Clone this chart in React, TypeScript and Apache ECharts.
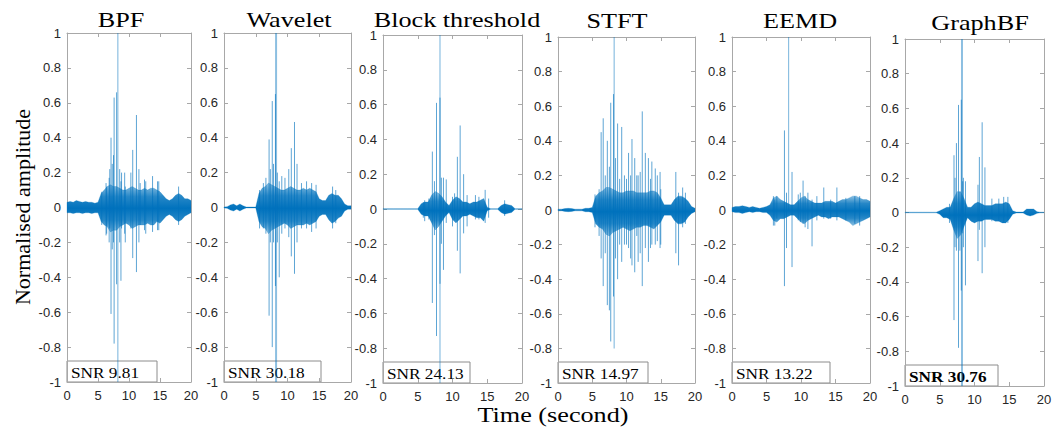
import React, { useEffect, useRef } from 'react';
import * as echarts from 'echarts';

// ---------- data ----------
const envTimes = [0, 0.5, 1, 1.5, 2, 2.5, 3, 3.5, 4, 4.5, 5, 5.5, 6, 6.5, 7, 7.5, 8, 8.5, 9, 9.5, 10, 10.5, 11, 11.5, 12, 12.5, 13, 13.5, 14, 14.5, 15, 15.5, 16, 16.5, 17, 17.5, 18, 18.5, 19, 19.5, 20];

const methodNames = ['BPF', 'Wavelet', 'Block threshold', 'STFT', 'EEMD', 'GraphBF'];
const snrValues = ['9.81', '30.18', '24.13', '14.97', '13.22', '30.76'];

const bpfUpper = [0.03, 0.035, 0.03, 0.04, 0.035, 0.03, 0.035, 0.03, 0.03, 0.025, 0.03, 0.08, 0.1, 0.12, 0.13, 0.12, 0.12, 0.11, 0.1, 0.1, 0.11, 0.12, 0.11, 0.1, 0.1, 0.11, 0.1, 0.11, 0.11, 0.1, 0.09, 0.07, 0.05, 0.04, 0.05, 0.07, 0.08, 0.07, 0.05, 0.05, 0.04];
const bpfLower = [-0.03, -0.03, -0.035, -0.03, -0.03, -0.035, -0.03, -0.03, -0.035, -0.03, -0.03, -0.08, -0.1, -0.11, -0.14, -0.13, -0.13, -0.11, -0.1, -0.09, -0.1, -0.12, -0.11, -0.1, -0.1, -0.1, -0.09, -0.1, -0.1, -0.08, -0.09, -0.07, -0.05, -0.04, -0.05, -0.07, -0.08, -0.07, -0.05, -0.04, -0.03];
const bpfSpikes = [[5.6, 0.09, -0.1], [6.3, 0.14, -0.16], [6.4, 0.12, -0.15], [6.8, 0.17, -0.2], [6.9, 0.22, -0.12], [7.1, 0.4, -0.61], [7.3, 0.25, -0.24], [7.5, 0.3, -0.2], [7.6, 0.63, -0.78], [8.0, 0.66, -0.44], [8.5, 0.22, -0.2], [8.7, 0.15, -0.42], [8.8, 0.2, -0.12], [9.3, 0.2, -0.15], [9.4, 0.12, -0.2], [10.3, 0.2, -0.12], [10.6, 0.33, -0.29], [11.2, 0.53, -0.37], [11.6, 0.22, -0.2], [11.8, 0.14, -0.1], [12.5, 0.16, -0.13], [12.7, 0.15, -0.15], [13.8, 0.18, -0.14], [14.6, 0.15, -0.13], [14.8, 0.15, -0.13], [18.0, 0.12, -0.1]];
const bpfMarker = [[8.2, 1, -1]];

const waveletUpper = [0.003, 0.005, 0.015, 0.02, 0.01, 0.02, 0.01, 0.003, 0.003, 0.003, 0.003, 0.08, 0.11, 0.12, 0.14, 0.13, 0.12, 0.11, 0.1, 0.1, 0.11, 0.12, 0.11, 0.1, 0.1, 0.11, 0.1, 0.11, 0.1, 0.09, 0.05, 0.04, 0.04, 0.07, 0.08, 0.07, 0.07, 0.05, 0.02, 0.01, 0.01];
const waveletLower = [-0.003, -0.005, -0.015, -0.02, -0.01, -0.02, -0.01, -0.003, -0.003, -0.003, -0.003, -0.08, -0.11, -0.12, -0.15, -0.13, -0.12, -0.11, -0.1, -0.09, -0.1, -0.12, -0.11, -0.1, -0.1, -0.1, -0.09, -0.1, -0.09, -0.08, -0.05, -0.04, -0.04, -0.07, -0.09, -0.08, -0.06, -0.05, -0.02, -0.01, -0.01];
const waveletSpikes = [[5.6, 0.1, -0.12], [6.2, 0.14, -0.12], [6.6, 0.17, -0.15], [7.1, 0.39, -0.62], [7.3, 0.22, -0.2], [7.6, 0.61, -0.8], [7.8, 0.25, -0.2], [8.1, 0.65, -0.45], [8.4, 0.2, -0.2], [8.7, 0.15, -0.4], [9.1, 0.18, -0.15], [9.6, 0.17, -0.12], [10.2, 0.22, -0.17], [10.6, 0.34, -0.28], [11.1, 0.49, -0.38], [11.5, 0.25, -0.2], [12.2, 0.14, -0.12], [13.0, 0.15, -0.12], [13.8, 0.14, -0.14], [14.5, 0.13, -0.12], [17.1, 0.12, -0.12], [17.6, 0.1, -0.09]];
const waveletMarker = [[8.2, 1, -1]];

const blockUpper = [0.002, 0.002, 0.002, 0.002, 0.002, 0.002, 0.002, 0.002, 0.002, 0.002, 0.002, 0.03, 0.04, 0.04, 0.08, 0.1, 0.09, 0.07, 0.04, 0.02, 0.05, 0.07, 0.06, 0.04, 0.04, 0.03, 0.04, 0.04, 0.05, 0.06, 0.01, 0.002, 0.002, 0.002, 0.02, 0.03, 0.025, 0.02, 0.002, 0.002, 0.002];
const blockLower = [-0.002, -0.002, -0.002, -0.002, -0.002, -0.002, -0.002, -0.002, -0.002, -0.002, -0.002, -0.03, -0.04, -0.04, -0.08, -0.12, -0.1, -0.07, -0.04, -0.02, -0.06, -0.08, -0.06, -0.04, -0.04, -0.03, -0.04, -0.05, -0.05, -0.07, -0.01, -0.002, -0.002, -0.002, -0.02, -0.03, -0.025, -0.02, -0.002, -0.002, -0.002];
const blockSpikes = [[5.8, 0.04, -0.05], [6.0, 0.05, -0.07], [6.6, 0.06, -0.06], [7.1, 0.33, -0.54], [7.4, 0.16, -0.15], [7.7, 0.61, -0.73], [8.2, 0.64, -0.43], [8.4, 0.18, -0.2], [8.7, 0.18, -0.35], [9.1, 0.17, -0.08], [10.0, 0.07, -0.1], [10.3, 0.09, -0.06], [10.7, 0.3, -0.24], [11.1, 0.48, -0.37], [11.6, 0.2, -0.14], [12.1, 0.08, -0.1], [13.3, 0.08, -0.06], [13.8, 0.07, -0.06], [14.7, 0.11, -0.08], [15.2, 0.06, -0.05], [17.5, 0.05, -0.04]];
const blockMarker = [[8.2, 1, -1]];

const stftUpper = [0.005, 0.005, 0.008, 0.01, 0.008, 0.005, 0.005, 0.005, 0.01, 0.01, 0.015, 0.08, 0.1, 0.11, 0.13, 0.13, 0.12, 0.11, 0.1, 0.1, 0.11, 0.11, 0.11, 0.1, 0.1, 0.1, 0.1, 0.11, 0.11, 0.1, 0.07, 0.03, 0.03, 0.03, 0.06, 0.08, 0.08, 0.07, 0.05, 0.02, 0.01];
const stftLower = [-0.005, -0.005, -0.008, -0.01, -0.008, -0.005, -0.005, -0.005, -0.01, -0.01, -0.015, -0.08, -0.1, -0.11, -0.14, -0.15, -0.13, -0.12, -0.11, -0.1, -0.11, -0.12, -0.11, -0.1, -0.1, -0.09, -0.09, -0.1, -0.11, -0.09, -0.07, -0.03, -0.03, -0.03, -0.06, -0.08, -0.08, -0.07, -0.04, -0.02, -0.01];
const stftSpikes = [[5.4, 0.09, -0.1], [6.0, 0.12, -0.15], [6.3, 0.45, -0.28], [6.6, 0.53, -0.44], [6.9, 0.2, -0.25], [7.2, 0.4, -0.55], [7.5, 0.25, -0.58], [7.7, 0.62, -0.76], [8.1, 0.67, -0.5], [8.4, 0.3, -0.28], [8.7, 0.5, -0.4], [9.0, 0.18, -0.2], [9.3, 0.48, -0.3], [9.7, 0.2, -0.2], [10.0, 0.18, -0.2], [10.3, 0.33, -0.22], [10.6, 0.2, -0.28], [10.8, 0.41, -0.32], [11.2, 0.3, -0.36], [11.5, 0.2, -0.15], [11.7, 0.2, -0.3], [12.0, 0.22, -0.25], [12.3, 0.57, -0.44], [12.75, 0.33, -0.22], [13.2, 0.3, -0.3], [13.5, 0.18, -0.22], [13.7, 0.28, -0.2], [14.2, 0.24, -0.2], [14.5, 0.2, -0.18], [14.9, 0.22, -0.22], [15.0, 0.12, -0.2], [17.2, 0.22, -0.25], [17.6, 0.1, -0.32], [18.2, 0.13, -0.1], [18.6, 0.1, -0.08]];
const stftMarker = [[8.2, 1, -0.8]];

const eemdUpper = [0.015, 0.02, 0.02, 0.025, 0.02, 0.015, 0.02, 0.015, 0.01, 0.015, 0.02, 0.03, 0.07, 0.08, 0.06, 0.05, 0.04, 0.03, 0.03, 0.05, 0.07, 0.08, 0.06, 0.05, 0.04, 0.04, 0.04, 0.05, 0.05, 0.05, 0.04, 0.05, 0.06, 0.06, 0.07, 0.08, 0.08, 0.07, 0.06, 0.06, 0.05];
const eemdLower = [-0.01, -0.015, -0.015, -0.02, -0.015, -0.01, -0.015, -0.01, -0.01, -0.015, -0.015, -0.03, -0.06, -0.07, -0.05, -0.05, -0.04, -0.03, -0.03, -0.05, -0.07, -0.08, -0.06, -0.05, -0.04, -0.03, -0.04, -0.04, -0.05, -0.04, -0.04, -0.04, -0.05, -0.06, -0.07, -0.09, -0.08, -0.07, -0.06, -0.05, -0.04];
const eemdSpikes = [[6.0, 0.08, -0.09], [6.2, 0.06, -0.09], [6.5, 0.08, -0.05], [7.6, 0.46, -0.44], [7.9, 0.1, -0.22], [8.7, 0.22, -0.33], [9.6, 0.09, -0.06], [9.9, 0.1, -0.07], [10.3, 0.17, -0.08], [10.6, 0.08, -0.1], [11.0, 0.1, -0.11], [11.6, 0.06, -0.21], [12.3, 0.08, -0.06], [13.3, 0.13, -0.05], [14.3, 0.06, -0.05], [15.2, 0.13, -0.06], [16.5, 0.07, -0.06], [17.8, 0.08, -0.08], [18.5, 0.08, -0.09]];
const eemdMarker = [[8.2, 1, 0]];

const graphUpper = [0.002, 0.002, 0.002, 0.002, 0.002, 0.002, 0.002, 0.002, 0.002, 0.002, 0.01, 0.02, 0.03, 0.03, 0.08, 0.12, 0.12, 0.08, 0.03, 0.03, 0.05, 0.06, 0.05, 0.04, 0.04, 0.04, 0.05, 0.05, 0.05, 0.06, 0.05, 0.01, 0.003, 0.003, 0.003, 0.02, 0.02, 0.02, 0.005, 0.002, 0.002];
const graphLower = [-0.002, -0.002, -0.002, -0.002, -0.002, -0.002, -0.002, -0.002, -0.002, -0.002, -0.01, -0.03, -0.03, -0.04, -0.1, -0.15, -0.13, -0.08, -0.03, -0.05, -0.06, -0.05, -0.05, -0.04, -0.04, -0.04, -0.05, -0.05, -0.06, -0.06, -0.04, -0.01, -0.003, -0.003, -0.003, -0.015, -0.02, -0.015, -0.005, -0.002, -0.002];
const graphSpikes = [[6.4, 0.05, -0.06], [7.05, 0.33, -0.62], [7.2, 0.2, -0.2], [7.4, 0.4, -0.22], [7.7, 0.62, -0.78], [7.9, 0.12, -0.22], [8.1, 0.65, -0.45], [8.3, 0.18, -0.12], [8.4, 0.2, -0.2], [8.7, 0.18, -0.42], [10.5, 0.16, -0.28], [10.7, 0.32, -0.1], [11.1, 0.52, -0.35], [11.5, 0.26, -0.2], [12.5, 0.08, -0.05], [13.5, 0.08, -0.05], [14.2, 0.09, -0.06], [14.8, 0.09, -0.06]];
const graphMarker = [[8.2, 1, -1]];

const upperSets = [bpfUpper, waveletUpper, blockUpper, stftUpper, eemdUpper, graphUpper];
const lowerSets = [bpfLower, waveletLower, blockLower, stftLower, eemdLower, graphLower];
const spikeSets = [bpfSpikes, waveletSpikes, blockSpikes, stftSpikes, eemdSpikes, graphSpikes];
const markerSets = [bpfMarker, waveletMarker, blockMarker, stftMarker, eemdMarker, graphMarker];

// ---------- layout ----------
const layout = [
  { left: 67, top: 33, width: 124, height: 349, titleX: 121, titleY: 19, boxW: 90, bold: false, markerW: 1.2 },
  { left: 224, top: 33, width: 127, height: 349, titleX: 289, titleY: 19, boxW: 97, bold: false, markerW: 2 },
  { left: 383, top: 35, width: 139, height: 348, titleX: 457, titleY: 19, boxW: 87, bold: false, markerW: 1.2 },
  { left: 558, top: 37, width: 137, height: 346, titleX: 617, titleY: 20, boxW: 90, bold: false, markerW: 1.2 },
  { left: 732, top: 37, width: 138, height: 346, titleX: 800, titleY: 20, boxW: 98, bold: false, markerW: 1.2 },
  { left: 905, top: 39, width: 139, height: 347, titleX: 980, titleY: 22, boxW: 93, bold: true, markerW: 2 },
];

const BLUE = '#0072BD';
const FRAME = '#a8a8a8';
const LABEL = '#262626';
const SANS = '"Liberation Sans", Arial, sans-serif';
const SERIF = '"Liberation Serif", "Times New Roman", serif';

function buildOption() {
  const grid: any[] = [];
  const xAxis: any[] = [];
  const yAxis: any[] = [];
  const series: any[] = [];
  const graphic: any[] = [];

  const bandFill = new echarts.graphic.LinearGradient(0, 0, 0, 1, [
    { offset: 0, color: 'rgba(0,114,189,0.45)' },
    { offset: 0.25, color: 'rgba(0,114,189,0.85)' },
    { offset: 0.5, color: 'rgba(0,114,189,1)' },
    { offset: 0.75, color: 'rgba(0,114,189,0.85)' },
    { offset: 1, color: 'rgba(0,114,189,0.45)' },
  ]);

  layout.forEach((L, i) => {
    grid.push({ left: L.left, top: L.top, width: L.width, height: L.height, show: false });
    const xBase = {
      gridIndex: i, type: 'value', min: 0, max: 20, interval: 5,
      axisLine: { show: true, onZero: false, lineStyle: { color: FRAME, width: 1 } },
      axisTick: { show: true, inside: true, length: 4, lineStyle: { color: FRAME } },
      splitLine: { show: false },
    };
    xAxis.push({ ...xBase, position: 'bottom', axisLabel: { show: true, fontFamily: SANS, fontSize: 13, color: LABEL, margin: 7 } });
    xAxis.push({ ...xBase, position: 'top', axisLabel: { show: false } });
    const yBase = {
      gridIndex: i, type: 'value', min: -1, max: 1, interval: 0.2,
      axisLine: { show: true, onZero: false, lineStyle: { color: FRAME, width: 1 } },
      axisTick: { show: true, inside: true, length: 4, lineStyle: { color: FRAME } },
      splitLine: { show: false },
    };
    yAxis.push({
      ...yBase, position: 'left',
      axisLabel: { show: true, fontFamily: SANS, fontSize: 13, color: LABEL, margin: 6, formatter: (v: number) => String(Math.round(v * 10) / 10) },
    });
    yAxis.push({ ...yBase, position: 'right', axisLabel: { show: false } });

    const xi = i * 2;
    const yi = i * 2;

    // dense noise envelope
    const envData = envTimes.map((t, k) => [t, upperSets[i][k], lowerSets[i][k]]);
    series.push({
      type: 'custom', xAxisIndex: xi, yAxisIndex: yi, encode: { x: 0, y: [1, 2] },
      data: envData, silent: true,
      renderItem: (params: any, api: any) => {
        if (params.dataIndexInside !== 0) return null;
        const n = params.dataInsideLength;
        const top: number[][] = [];
        const bot: number[][] = [];
        for (let j = 0; j < n; j++) {
          const t = api.value(0, j);
          top.push(api.coord([t, api.value(1, j)]));
          bot.push(api.coord([t, api.value(2, j)]));
        }
        return {
          type: 'polygon',
          shape: { points: top.concat(bot.reverse()) },
          style: { fill: bandFill, stroke: 'rgba(0,114,189,0.5)', lineWidth: 0.5 },
        };
      },
    });

    // spikes
    series.push({
      type: 'custom', xAxisIndex: xi, yAxisIndex: yi, encode: { x: 0, y: [1, 2] },
      data: spikeSets[i], silent: true,
      renderItem: (params: any, api: any) => {
        const t = api.value(0);
        const a = api.coord([t, api.value(1)]);
        const b = api.coord([t, api.value(2)]);
        return { type: 'line', shape: { x1: a[0], y1: a[1], x2: b[0], y2: b[1] }, style: { stroke: BLUE, lineWidth: 0.8, opacity: 0.8 } };
      },
    });

    // event marker line
    series.push({
      type: 'custom', xAxisIndex: xi, yAxisIndex: yi, encode: { x: 0, y: [1, 2] },
      data: markerSets[i], silent: true,
      renderItem: (params: any, api: any) => {
        const t = api.value(0);
        const a = api.coord([t, api.value(1)]);
        const b = api.coord([t, api.value(2)]);
        return { type: 'line', shape: { x1: a[0], y1: a[1], x2: b[0], y2: b[1] }, style: { stroke: 'rgba(0,114,189,0.45)', lineWidth: L.markerW } };
      },
    });

    // titles
    graphic.push({
      type: 'text', x: L.titleX, y: L.titleY, scaleX: 1.19,
      style: { text: methodNames[i], font: `22px ${SERIF}`, fill: '#000', align: 'center', verticalAlign: 'middle' },
    });
    // SNR box
    const boxH = 21;
    const boxTop = L.top + L.height - boxH;
    graphic.push({
      type: 'rect', shape: { x: L.left, y: boxTop, width: L.boxW, height: boxH },
      style: { fill: 'none', stroke: '#8c8c8c', lineWidth: 1 },
    });
    graphic.push({
      type: 'text', x: L.left + 4, y: boxTop + boxH / 2 + 1, scaleX: 1.15,
      style: { text: `SNR ${snrValues[i]}`, font: `${L.bold ? 'bold ' : ''}15px ${SERIF}`, fill: '#000', align: 'left', verticalAlign: 'middle' },
    });
  });

  graphic.push({
    type: 'text', x: 22, y: 207, rotation: Math.PI / 2,
    style: { text: 'Normalised amplitude', font: `22px ${SERIF}`, fill: '#000', align: 'center', verticalAlign: 'middle' },
  });
  graphic.push({
    type: 'text', x: 553, y: 414, scaleX: 1.19,
    style: { text: 'Time (second)', font: `22px ${SERIF}`, fill: '#000', align: 'center', verticalAlign: 'middle' },
  });

  return { animation: false, backgroundColor: '#fff', grid, xAxis, yAxis, series, graphic };
}

export default function App() {
  const ref = useRef<HTMLDivElement>(null);
  useEffect(() => {
    if (!ref.current) return;
    const chart = echarts.init(ref.current, undefined, { renderer: 'svg' });
    chart.setOption(buildOption() as any);
    return () => chart.dispose();
  }, []);
  return <div ref={ref} style={{ position: 'fixed', left: 0, top: 0, width: 1061, height: 430, background: '#fff' }} />;
}
